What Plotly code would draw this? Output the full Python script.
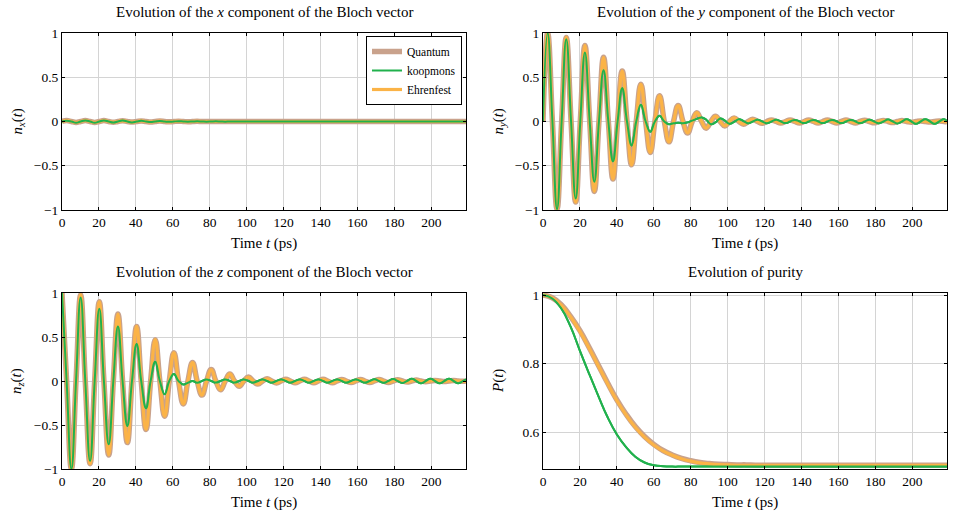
import plotly.graph_objects as go

# ---------------- data ----------------
t = [0.0, 2.5, 5.1, 7.6, 10.1, 12.6, 15.2, 17.7, 20.2, 22.7,
     25.3, 27.8, 30.3, 32.8, 35.4, 37.9, 40.4, 42.9, 45.5, 48.0,
     50.5, 53.0, 55.6, 58.1, 60.6, 63.1, 65.7, 68.2, 70.7, 73.2,
     75.8, 78.3, 80.8, 83.3, 85.9, 88.4, 90.9, 93.4, 96.0, 98.5,
     101.0, 103.5, 106.1, 108.6, 111.1, 113.6, 116.2, 118.7, 121.2, 123.7,
     126.3, 128.8, 131.3, 133.8, 136.4, 138.9, 141.4, 143.9, 146.5, 149.0,
     151.5, 154.0, 156.6, 159.1, 161.6, 164.1, 166.7, 169.2, 171.7, 174.2,
     176.8, 179.3, 181.8, 184.3, 186.9, 189.4, 191.9, 194.4, 197.0, 199.5,
     202.0, 204.5, 207.1, 209.6, 212.1, 214.6, 217.2, 218.8]

x_quantum = [0.0, 0.01, 0.0, -0.01, 0.0, 0.01, 0.0, -0.01, 0.0, 0.01,
             0.0, -0.008, 0.0, 0.008, 0.0, -0.007, 0.0, 0.006, 0.0, -0.005,
             0.0, 0.005, 0.0, -0.004, 0.0, 0.003, 0.0, -0.003, 0.0, 0.002,
             0.0, 0.0, 0.0, 0.0, 0.0, 0.0, 0.0, 0.0, 0.0, 0.0,
             0.0, 0.0, 0.0, 0.0, 0.0, 0.0, 0.0, 0.0, 0.0, 0.0,
             0.0, 0.0, 0.0, 0.0, 0.0, 0.0, 0.0, 0.0, 0.0, 0.0,
             0.0, 0.0, 0.0, 0.0, 0.0, 0.0, 0.0, 0.0, 0.0, 0.0,
             0.0, 0.0, 0.0, 0.0, 0.0, 0.0, 0.0, 0.0, 0.0, 0.0,
             0.0, 0.0, 0.0, 0.0, 0.0, 0.0, 0.0, 0.0]
x_ehrenfest = [0.0, 0.01, 0.0, -0.01, 0.0, 0.01, 0.0, -0.01, 0.0, 0.01,
               0.0, -0.008, 0.0, 0.008, 0.0, -0.007, 0.0, 0.006, 0.0, -0.005,
               0.0, 0.005, 0.0, -0.004, 0.0, 0.003, 0.0, -0.003, 0.0, 0.002,
               0.0, 0.0, 0.0, 0.0, 0.0, 0.0, 0.0, 0.0, 0.0, 0.0,
               0.0, 0.0, 0.0, 0.0, 0.0, 0.0, 0.0, 0.0, 0.0, 0.0,
               0.0, 0.0, 0.0, 0.0, 0.0, 0.0, 0.0, 0.0, 0.0, 0.0,
               0.0, 0.0, 0.0, 0.0, 0.0, 0.0, 0.0, 0.0, 0.0, 0.0,
               0.0, 0.0, 0.0, 0.0, 0.0, 0.0, 0.0, 0.0, 0.0, 0.0,
               0.0, 0.0, 0.0, 0.0, 0.0, 0.0, 0.0, 0.0]
x_koopmons = [0.0, 0.008, 0.0, -0.015, 0.0, 0.012, 0.0, -0.015, 0.0, 0.012,
              0.0, -0.012, 0.0, 0.01, 0.0, -0.01, 0.0, 0.008, 0.0, -0.006,
              0.0, 0.005, 0.0, -0.004, 0.0, 0.003, 0.0, -0.002, 0.0, 0.002,
              0.0, -0.002, 0.0, 0.002, 0.0, -0.002, 0.0, 0.0, 0.0, 0.0,
              0.0, 0.0, 0.0, 0.0, 0.0, 0.0, 0.0, 0.0, 0.0, 0.0,
              0.0, 0.0, 0.0, 0.0, 0.0, 0.0, 0.0, 0.0, 0.0, 0.0,
              0.0, 0.0, 0.0, 0.0, 0.0, 0.0, 0.0, 0.0, 0.0, 0.0,
              0.0, 0.0, 0.0, 0.0, 0.0, 0.0, 0.0, 0.0, 0.0, 0.0,
              0.0, 0.0, 0.0, 0.0, 0.0, 0.0, 0.0, 0.0]

y_quantum = [0.0, 1.0, 0.0, -0.99, 0.0, 0.95, 0.0, -0.91, 0.0, 0.86,
             0.0, -0.79, 0.0, 0.725, 0.0, -0.65, 0.0, 0.57, 0.0, -0.49,
             0.0, 0.42, 0.0, -0.35, 0.0, 0.29, 0.0, -0.23, 0.0, 0.18,
             0.0, -0.13, 0.0, 0.10, 0.0, -0.075, 0.0, 0.06, 0.0, -0.05,
             0.0, 0.04, 0.0, -0.03, 0.0, 0.025, 0.0, -0.02, 0.0, 0.018,
             0.0, -0.018, 0.0, 0.018, 0.0, -0.018, 0.0, 0.018, 0.0, -0.018,
             0.0, 0.016, 0.0, -0.016, 0.0, 0.016, 0.0, -0.016, 0.0, 0.015,
             0.0, -0.015, 0.0, 0.012, 0.0, -0.012, 0.0, 0.01, 0.0, -0.008,
             0.0, 0.007, 0.0, -0.006, 0.0, 0.005, 0.0, -0.004]
y_ehrenfest = [0.0, 1.0, 0.0, -0.99, 0.0, 0.95, 0.0, -0.91, 0.0, 0.86,
               0.0, -0.79, 0.0, 0.725, 0.0, -0.65, 0.0, 0.57, 0.0, -0.49,
               0.0, 0.42, 0.0, -0.35, 0.0, 0.29, 0.0, -0.23, 0.0, 0.18,
               0.0, -0.13, 0.0, 0.10, 0.0, -0.075, 0.0, 0.06, 0.0, -0.05,
               0.0, 0.04, 0.0, -0.03, 0.0, 0.025, 0.0, -0.02, 0.0, 0.016,
               0.0, -0.016, 0.0, 0.016, 0.0, -0.016, 0.0, 0.016, 0.0, -0.016,
               0.0, 0.015, 0.0, -0.015, 0.0, 0.015, 0.0, -0.015, 0.0, 0.014,
               0.0, -0.014, 0.0, 0.012, 0.0, -0.012, 0.0, 0.01, 0.0, -0.008,
               0.0, 0.007, 0.0, -0.006, 0.0, 0.005, 0.0, -0.004]
y_koopmons = [0.0, 1.0, 0.0, -0.99, 0.0, 0.93, 0.0, -0.87, 0.0, 0.78,
              0.0, -0.68, 0.0, 0.58, 0.0, -0.45, 0.0, 0.375, 0.0, -0.27,
              0.0, 0.19, 0.0, -0.115, 0.0, 0.065, 0.0, -0.03, -0.02, -0.015,
              -0.02, -0.01, 0.01, 0.03, 0.045, 0.02, -0.03, -0.01, 0.035, 0.01,
              -0.025, -0.005, 0.025, 0.005, -0.02, 0.0, 0.02, 0.0, -0.02, 0.0,
              0.02, 0.0, -0.018, 0.0, 0.018, 0.0, -0.018, 0.0, 0.018, 0.0,
              -0.018, 0.0, 0.018, 0.0, -0.018, 0.0, 0.018, 0.0, -0.018, 0.0,
              0.02, 0.0, -0.02, 0.0, 0.022, 0.0, -0.022, 0.0, 0.025, 0.0,
              -0.025, 0.0, 0.025, 0.0, -0.025, 0.0, 0.025, 0.0]

z_quantum = [1.0, 0.0, -1.0, 0.0, 0.98, 0.0, -0.94, 0.0, 0.90, 0.0,
             -0.84, 0.0, 0.76, 0.0, -0.70, 0.0, 0.62, 0.0, -0.55, 0.0,
             0.47, 0.0, -0.40, 0.0, 0.32, 0.0, -0.26, 0.0, 0.21, 0.0,
             -0.16, 0.0, 0.13, 0.0, -0.10, 0.0, 0.08, 0.0, -0.06, 0.0,
             0.045, 0.0, -0.035, 0.0, 0.025, 0.0, -0.022, 0.0, 0.02, 0.0,
             -0.02, 0.0, 0.02, 0.0, -0.02, 0.0, 0.02, 0.0, -0.02, 0.0,
             0.018, 0.0, -0.018, 0.0, 0.018, 0.0, -0.018, 0.0, 0.018, 0.0,
             -0.016, 0.0, 0.014, 0.0, -0.012, 0.0, 0.01, 0.0, -0.008, 0.0,
             0.007, 0.0, -0.006, 0.0, 0.005, 0.0, -0.004, 0.0]
z_ehrenfest = [1.0, 0.0, -1.0, 0.0, 0.98, 0.0, -0.94, 0.0, 0.90, 0.0,
               -0.84, 0.0, 0.76, 0.0, -0.70, 0.0, 0.62, 0.0, -0.55, 0.0,
               0.47, 0.0, -0.40, 0.0, 0.32, 0.0, -0.26, 0.0, 0.21, 0.0,
               -0.16, 0.0, 0.13, 0.0, -0.10, 0.0, 0.08, 0.0, -0.06, 0.0,
               0.045, 0.0, -0.035, 0.0, 0.025, 0.0, -0.022, 0.0, 0.018, 0.0,
               -0.018, 0.0, 0.018, 0.0, -0.018, 0.0, 0.018, 0.0, -0.018, 0.0,
               0.016, 0.0, -0.016, 0.0, 0.016, 0.0, -0.016, 0.0, 0.016, 0.0,
               -0.015, 0.0, 0.014, 0.0, -0.012, 0.0, 0.01, 0.0, -0.008, 0.0,
               0.007, 0.0, -0.006, 0.0, 0.005, 0.0, -0.004, 0.0]
z_koopmons = [1.0, 0.0, -1.0, 0.0, 0.95, 0.0, -0.91, 0.0, 0.82, 0.0,
              -0.72, 0.0, 0.62, 0.0, -0.51, 0.0, 0.42, 0.0, -0.31, 0.0,
              0.22, 0.0, -0.15, 0.0, 0.08, 0.0, -0.04, -0.02, 0.0, -0.02,
              0.0, 0.018, 0.0, -0.018, 0.0, 0.018, 0.0, -0.018, 0.0, 0.018,
              0.0, -0.018, 0.0, 0.018, 0.0, -0.018, 0.0, 0.018, 0.0, -0.018,
              0.0, 0.018, 0.0, -0.018, 0.0, 0.018, 0.0, -0.018, 0.0, 0.018,
              0.0, -0.018, 0.0, 0.018, 0.0, -0.018, 0.0, 0.02, 0.0, -0.02,
              0.0, 0.022, 0.0, -0.022, 0.0, 0.025, 0.0, -0.025, 0.0, 0.025,
              0.0, -0.025, 0.0, 0.025, 0.0, -0.025, 0.0, 0.02]

t_purity = [0, 5, 10, 15, 20, 25, 30, 35, 40, 45,
            50, 55, 60, 65, 70, 75, 80, 85, 90, 95,
            100, 105, 110, 115, 120, 125, 130, 135, 140, 145,
            150, 155, 160, 165, 170, 175, 180, 185, 190, 195,
            200, 205, 210, 215, 218.8]
P_quantum = [1.0, 0.992, 0.971, 0.937, 0.896, 0.847, 0.795, 0.743, 0.694, 0.652,
             0.616, 0.587, 0.564, 0.546, 0.533, 0.523, 0.516, 0.511, 0.508, 0.506,
             0.505, 0.504, 0.504, 0.503, 0.503, 0.503, 0.503, 0.503, 0.503, 0.503,
             0.503, 0.503, 0.503, 0.503, 0.503, 0.503, 0.503, 0.503, 0.503, 0.503,
             0.503, 0.503, 0.503, 0.503, 0.503]
P_ehrenfest = [1.0, 0.992, 0.970, 0.936, 0.894, 0.845, 0.793, 0.741, 0.692, 0.650,
               0.614, 0.585, 0.562, 0.545, 0.532, 0.522, 0.515, 0.510, 0.507, 0.505,
               0.504, 0.503, 0.503, 0.503, 0.503, 0.503, 0.503, 0.503, 0.503, 0.503,
               0.503, 0.503, 0.503, 0.503, 0.503, 0.503, 0.503, 0.503, 0.503, 0.503,
               0.503, 0.503, 0.503, 0.503, 0.503]
P_koopmons = [1.0, 0.99, 0.96, 0.907, 0.837, 0.77, 0.705, 0.643, 0.593, 0.556,
              0.528, 0.511, 0.503, 0.500, 0.499, 0.499, 0.499, 0.499, 0.499, 0.499,
              0.499, 0.499, 0.499, 0.499, 0.499, 0.499, 0.499, 0.499, 0.499, 0.499,
              0.499, 0.499, 0.499, 0.499, 0.499, 0.499, 0.499, 0.499, 0.499, 0.499,
              0.499, 0.499, 0.499, 0.499, 0.499]

x_ticks = [0, 20, 40, 60, 80, 100, 120, 140, 160, 180, 200]
bloch_ticks = [-1, -0.5, 0, 0.5, 1]
purity_ticks = [0.6, 0.8, 1]

# ---------------- style ----------------
FONT = "Liberation Serif"
C_QM = "#c9a28c"
C_EH = "#fbb347"
C_KO = "#21b14d"
W, H = 954, 518
SMOOTH = 1.3

panels = [
    ("x", "y", t, x_quantum, x_ehrenfest, x_koopmons, (62, 466), (33, 210), [-1, 1], bloch_ticks,
     "Evolution of the <i>x</i> component of the Bloch vector", "<i>n<sub>x</sub></i>(<i>t</i>)"),
    ("x2", "y2", t, y_quantum, y_ehrenfest, y_koopmons, (543, 947), (33, 210), [-1, 1], bloch_ticks,
     "Evolution of the <i>y</i> component of the Bloch vector", "<i>n<sub>y</sub></i>(<i>t</i>)"),
    ("x3", "y3", t, z_quantum, z_ehrenfest, z_koopmons, (62, 466), (293, 469), [-1, 1], bloch_ticks,
     "Evolution of the <i>z</i> component of the Bloch vector", "<i>n<sub>z</sub></i>(<i>t</i>)"),
    ("x4", "y4", t_purity, P_quantum, P_ehrenfest, P_koopmons, (543, 947), (293, 469), [0.492, 1.006], purity_ticks,
     "Evolution of purity", "<i>P</i>(<i>t</i>)"),
]

fig = go.Figure()
annotations = []
layout = {}
for i, (xa, ya, tt, qm, eh, ko, xd, yd, yr, ytk, title, ylab) in enumerate(panels):
    first = (i == 0)
    fig.add_trace(go.Scatter(x=tt, y=qm, mode="lines", name="Quantum", xaxis=xa, yaxis=ya,
                             line=dict(color=C_QM, width=5.5, shape="spline", smoothing=SMOOTH),
                             showlegend=first, legendrank=1))
    fig.add_trace(go.Scatter(x=tt, y=ko, mode="lines", name="koopmons", xaxis=xa, yaxis=ya,
                             line=dict(color=C_KO, width=2, shape="spline", smoothing=SMOOTH),
                             showlegend=first, legendrank=2))
    fig.add_trace(go.Scatter(x=tt, y=eh, mode="lines", name="Ehrenfest", xaxis=xa, yaxis=ya,
                             line=dict(color=C_EH, width=3.2, shape="spline", smoothing=SMOOTH),
                             showlegend=first, legendrank=3))
    # koopmons drawn again on top of the other curves
    fig.add_trace(go.Scatter(x=tt, y=ko, mode="lines", name="koopmons", xaxis=xa, yaxis=ya,
                             line=dict(color=C_KO, width=2, shape="spline", smoothing=SMOOTH),
                             showlegend=False))
    xdom = [xd[0] / W, xd[1] / W]
    ydom = [1 - yd[1] / H, 1 - yd[0] / H]
    xkey = "xaxis" if xa == "x" else "xaxis" + xa[1:]
    ykey = "yaxis" if ya == "y" else "yaxis" + ya[1:]
    common = dict(showline=True, linecolor="black", linewidth=1, mirror="ticks",
                  ticks="inside", ticklen=3, tickcolor="black", automargin=False,
                  showgrid=True, gridcolor="#d4d4d4", gridwidth=1, zeroline=False,
                  tickfont=dict(family=FONT, size=13.5, color="black"))
    layout[xkey] = dict(common, domain=xdom, range=[0, 218.8], tickvals=x_ticks,
                        anchor=ya)
    layout[ykey] = dict(common, domain=ydom, range=yr, tickvals=ytk, anchor=xa)
    cx = (xd[0] + xd[1]) / 2 / W
    annotations.append(dict(text=title, x=cx, y=1 - (yd[0] - 21) / H, xref="paper", yref="paper",
                            showarrow=False, xanchor="center", yanchor="middle",
                            font=dict(family=FONT, size=15, color="black")))
    annotations.append(dict(text="Time <i>t</i> (ps)", x=cx, y=1 - (yd[1] + 33) / H, xref="paper", yref="paper",
                            showarrow=False, xanchor="center", yanchor="middle",
                            font=dict(family=FONT, size=15, color="black")))
    annotations.append(dict(text=ylab, x=(xd[0] - 45) / W, y=1 - (yd[0] + yd[1]) / 2 / H,
                            xref="paper", yref="paper", textangle=-90,
                            showarrow=False, xanchor="center", yanchor="middle",
                            font=dict(family=FONT, size=15, color="black")))

fig.update_layout(
    width=W, height=H,
    margin=dict(l=0, r=0, t=0, b=0, autoexpand=False),
    paper_bgcolor="white", plot_bgcolor="white",
    font=dict(family=FONT, size=13, color="black"),
    annotations=annotations,
    legend=dict(x=462 / W, y=1 - 36 / H, xanchor="right", yanchor="top",
                bgcolor="white", bordercolor="black", borderwidth=1,
                font=dict(family=FONT, size=11.5, color="black"),
                tracegroupgap=0, itemwidth=30),
    **layout,
)

fig.write_html("out.html")
